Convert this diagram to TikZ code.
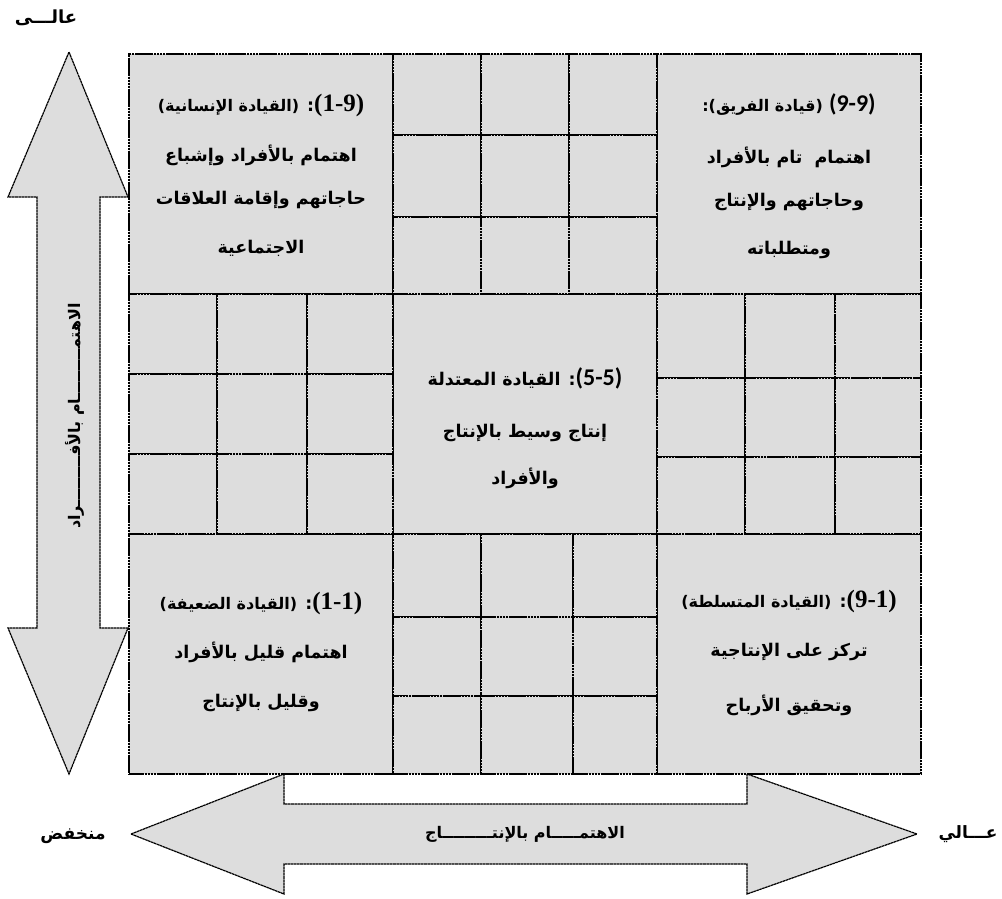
\documentclass[tikz,border=0pt]{standalone}
\usepackage{fontspec}
\TeXXeTstate=1
\newfontfamily\arabicfont[Script=Arabic,BoldFont=DejaVu Sans Bold]{DejaVu Sans}
\newfontfamily\numserif{Liberation Serif}
\newfontfamily\numsans{Carlito}
\definecolor{cellgray}{HTML}{DDDDDD}
\tikzset{
  edge/.style={draw=black, line width=1.2pt, dash pattern=on 2.6pt off 0.5pt},
  cellbox/.style={edge, fill=cellgray, inner sep=0pt, outer sep=0pt},
  bigarrow/.style={edge, fill=cellgray, line join=miter},
  txt/.style={inner sep=0pt, font=\arabicfont\bfseries\fontsize{17.5}{21}\selectfont},
  axislabel/.style={inner sep=0pt, font=\arabicfont\bfseries\fontsize{16}{19}\selectfont}
}
% a rectangular cell from (x1,y1) to (x2,y2), y pointing down
\newcommand\gridcell[5]{\node[cellbox, minimum width={(#4-#2)*1pt}, minimum height={(#5-#3)*1pt}] (#1) at ({(#2+#4)/2},{(#3+#5)/2}) {};}
\newcommand\boldnum[1]{{\numserif\bfseries\fontsize{25}{25}\selectfont #1}}
\newcommand\plainnum[1]{{\numsans\fontsize{24}{25}\selectfont #1}}
\newcommand\headsize{\fontsize{16}{19}\selectfont}
\begin{document}
\begin{tikzpicture}[x=1pt,y=-1pt]
\useasboundingbox (0,0) rectangle (1002,898);

% vertical double arrow (concern for people)
\draw[bigarrow] (69,52) -- (128,197) -- (100,197) -- (100,628) -- (128,628)
  -- (69,774) -- (8,628) -- (37,628) -- (37,197) -- (8,197) -- cycle;
% horizontal double arrow (concern for production)
\draw[bigarrow] (131,834) -- (284,774) -- (284,804) -- (747,804) -- (747,774)
  -- (917,834) -- (747,894) -- (747,864) -- (284,864) -- (284,894) -- cycle;

% corner and centre blocks
\gridcell{tl}{129}{54}{393}{294}
\gridcell{tr}{657}{54}{921}{294}
\gridcell{cc}{393}{294}{657}{534}
\gridcell{bl}{129}{534}{393}{774}
\gridcell{br}{657}{534}{921}{774}

% the four 3x3 blocks
\foreach \xa/\xb [count=\i] in {393/481,481/569,569/657}
  \foreach \ya/\yb [count=\j] in {54/135,135/217,217/294}
    {\gridcell{tm-\i-\j}{\xa}{\ya}{\xb}{\yb}}
\foreach \xa/\xb [count=\i] in {129/217,217/307,307/393}
  \foreach \ya/\yb [count=\j] in {294/374,374/454,454/534}
    {\gridcell{ml-\i-\j}{\xa}{\ya}{\xb}{\yb}}
\foreach \xa/\xb [count=\i] in {657/745,745/835,835/921}
  \foreach \ya/\yb [count=\j] in {294/378,378/457,457/534}
    {\gridcell{mr-\i-\j}{\xa}{\ya}{\xb}{\yb}}
\foreach \xa/\xb [count=\i] in {393/481,481/573,573/657}
  \foreach \ya/\yb [count=\j] in {534/617,617/696,696/774}
    {\gridcell{bm-\i-\j}{\xa}{\ya}{\xb}{\yb}}

% texts of the corner blocks (the number is set inside the right-to-left run)
\node[txt] (tl-a) at (261,105) {\beginR\boldnum{(1-9)}: {\headsize (القيادة الإنسانية)}\endR};
\node[txt] (tl-b) at (261,155) {\beginR اهتمام بالأفراد وإشباع\endR};
\node[txt] (tl-c) at (261,200) {\beginR حاجاتهم وإقامة العلاقات\endR};
\node[txt] (tl-d) at (261,248) {\beginR الاجتماعية\endR};

\node[txt] (tr-a) at (789,105) {\beginR\plainnum{(9-9)} {\headsize (قيادة الفريق):}\endR};
\node[txt] (tr-b) at (789,157) {\beginR اهتمام\ \ تام بالأفراد\endR};
\node[txt] (tr-c) at (789,202) {\beginR وحاجاتهم والإنتاج\endR};
\node[txt] (tr-d) at (789,250) {\beginR ومتطلباته\endR};

\node[txt] (cc-a) at (525,378) {\beginR\plainnum{(5-5)}: القيادة المعتدلة\endR};
\node[txt] (cc-b) at (525,433) {\beginR إنتاج وسيط بالإنتاج\endR};
\node[txt] (cc-c) at (525,478) {\beginR والأفراد\endR};

\node[txt] (bl-a) at (261,603) {\beginR\boldnum{(1-1)}: {\headsize (القيادة الضعيفة)}\endR};
\node[txt] (bl-b) at (261,652) {\beginR اهتمام قليل بالأفراد\endR};
\node[txt] (bl-c) at (261,703) {\beginR وقليل بالإنتاج\endR};

\node[txt] (br-a) at (789,601) {\beginR\boldnum{(9-1)}: {\headsize (القيادة المتسلطة)}\endR};
\node[txt] (br-b) at (789,652) {\beginR تركز على الإنتاجية\endR};
\node[txt] (br-c) at (789,705) {\beginR وتحقيق الأرباح\endR};

% axis texts
\node[axislabel, rotate=90] (ylab) at (75,416) {\beginR الاهتمـــــــــام بالأفـــــــــراد\endR};
\node[axislabel] (xlab) at (525,834) {\beginR الاهتمـــــام بالإنتـــــــــاج\endR};
\node[axislabel, font=\arabicfont\bfseries\fontsize{18}{21}\selectfont] (yhigh) at (46,18) {\beginR عالـــى\endR};
\node[axislabel, font=\arabicfont\bfseries\fontsize{17}{20}\selectfont] (xlow) at (73,836) {\beginR منخفض\endR};
\node[axislabel, font=\arabicfont\bfseries\fontsize{17}{20}\selectfont] (xhigh) at (968,834) {\beginR عـــالي\endR};
\end{tikzpicture}
\end{document}
